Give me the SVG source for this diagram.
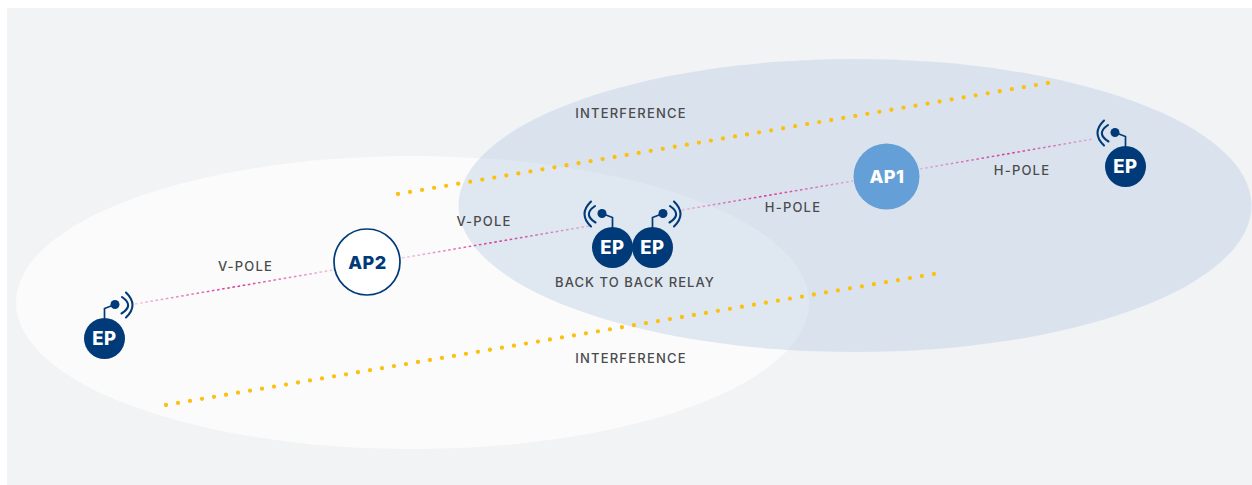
<svg xmlns="http://www.w3.org/2000/svg" width="1252" height="485" viewBox="0 0 1252 485">
<style>
.lbl{font-family:"Inter","Liberation Sans",sans-serif;font-size:13px;font-weight:500;fill:#4a4b4d;letter-spacing:1.2px;text-anchor:middle}
.ep{fill:#003a78}
.ept{font-family:"Inter","Liberation Sans",sans-serif;font-size:18.5px;font-weight:800;fill:#fff;text-anchor:middle;letter-spacing:.6px}
.apt{font-family:"Inter","Liberation Sans",sans-serif;font-size:18px;font-weight:800;text-anchor:middle;letter-spacing:.5px}
.wire{fill:none;stroke:#003a78;stroke-width:1.7}
.wave{fill:none;stroke:#003a78;stroke-width:2.1;stroke-linecap:round}
.pole{fill:none;stroke-width:1.5;stroke-dasharray:2.6 2.6}
.intf{fill:none;stroke:#fcc010;stroke-width:4.3;stroke-linecap:round;stroke-dasharray:0 1}
</style>
<defs>
<linearGradient id="fade"><stop offset="0" stop-color="#d6349a" stop-opacity=".25"/><stop offset=".5" stop-color="#d6349a"/><stop offset="1" stop-color="#d6349a" stop-opacity=".3"/></linearGradient>
<g id="epR"><circle class="ep" r="20.500"/><path class="wire" d="M0-20.500V-30L10.500-34"/><circle class="ep" cx="10.500" cy="-34" r="4.500"/><path class="wave" d="M17.500-41.500Q30-33 17-25M21.500-46Q34.500-33.500 21.500-21"/></g>
<g id="epL"><circle class="ep" r="20.500"/><path class="wire" d="M0-20.500V-30L-10.500-34"/><circle class="ep" cx="-10.500" cy="-34" r="4.500"/><path class="wave" d="M-17.500-41.500Q-30-33-17-25M-21.500-46Q-34.500-33.500-21.500-21"/></g>
</defs>
<rect width="1252" height="485" fill="#fff"/>
<rect x="7" y="8" width="1245" height="477" fill="#f1f3f5"/>
<g id="zones">
<ellipse cx="412.500" cy="302.500" rx="396.500" ry="146.500" fill="#fbfbfb"/>
<ellipse cx="855" cy="205.500" rx="396.500" ry="146.500" fill="#c3d3e6" fill-opacity=".5"/>
</g>
<g id="connectors">
<path class="pole" stroke="url(#fade)" d="M135 304L333 270"/>
<path class="pole" stroke="url(#fade)" d="M402 258L589 226"/>
<path class="pole" stroke="url(#fade)" d="M682 210L853 181"/>
<path class="pole" stroke="url(#fade)" d="M920 169L1093 139"/>
<path class="intf" pathLength="54.010" d="M398 194L1048 83"/>
<path class="intf" pathLength="64.010" d="M166 405L934 274"/>
</g>
<g id="ap2"><circle cx="367" cy="262" r="33" fill="#fff" stroke="#003a78" stroke-width="1.7"/><text class="apt" x="367.500" y="268.500" fill="#003a78">AP2</text></g>
<g id="ap1"><circle cx="886.500" cy="176.500" r="33" fill="#659fd7"/><text class="apt" x="887" y="183" fill="#fff">AP1</text></g>
<g id="ep-left"><use href="#epR" x="104.500" y="338.500"/><text class="ept" x="104.500" y="345">EP</text></g>
<g id="ep-relay-a"><use href="#epL" x="612.500" y="247.500"/><text class="ept" x="612.500" y="254">EP</text></g>
<g id="ep-relay-b"><use href="#epR" x="652.500" y="247.500"/><text class="ept" x="652.500" y="254">EP</text></g>
<g id="ep-right"><use href="#epL" x="1125.500" y="166.500"/><text class="ept" x="1125.500" y="173">EP</text></g>
<g id="labels">
<text class="lbl" x="631" y="118">INTERFERENCE</text>
<text class="lbl" x="631" y="363">INTERFERENCE</text>
<text class="lbl" x="245.500" y="271">V-POLE</text>
<text class="lbl" x="484" y="226">V-POLE</text>
<text class="lbl" x="793" y="212">H-POLE</text>
<text class="lbl" x="1022" y="175">H-POLE</text>
<text class="lbl" x="635" y="287" style="letter-spacing:1.05px">BACK TO BACK RELAY</text>
</g>
</svg>
